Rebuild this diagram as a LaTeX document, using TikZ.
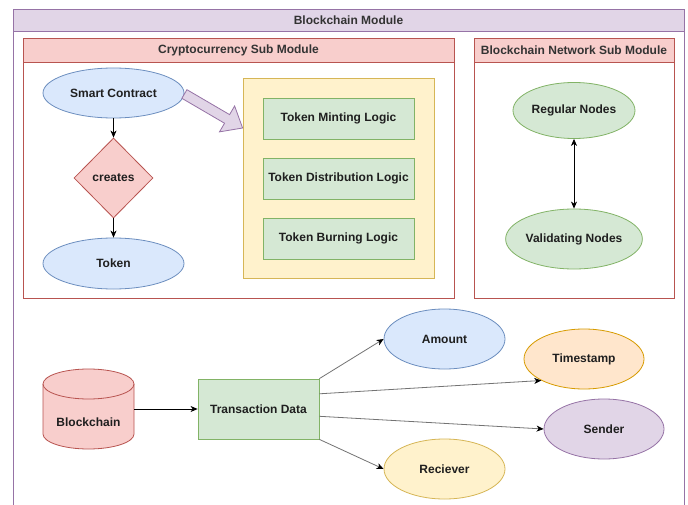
\documentclass[tikz,border=0pt]{standalone}
\usepackage{fontspec}
\setmainfont{Liberation Sans}
\usetikzlibrary{shapes.geometric,arrows.meta,calc}
\definecolor{purpF}{HTML}{E1D5E7}
\definecolor{purpS}{HTML}{9673A6}
\definecolor{redF}{HTML}{F8CECC}
\definecolor{redS}{HTML}{B85450}
\definecolor{blueF}{HTML}{DAE8FC}
\definecolor{blueS}{HTML}{6C8EBF}
\definecolor{yelF}{HTML}{FFF2CC}
\definecolor{yelS}{HTML}{D6B656}
\definecolor{greenF}{HTML}{D5E8D4}
\definecolor{greenS}{HTML}{82B366}
\definecolor{orF}{HTML}{FFE6CC}
\definecolor{orS}{HTML}{D79B00}
\tikzset{
  txt/.style={font=\fontsize{12}{14}\selectfont\bfseries, text=black!88},
  hdr/.style={font=\fontsize{12}{14}\selectfont\bfseries, text=black!80},
  ell/.style={ellipse, inner sep=0pt, line width=0.8pt, txt},
  box/.style={rectangle, inner sep=0pt, line width=0.8pt, txt},
  cont/.style={line width=0.8pt},
  tipA/.tip={Stealth[length=7pt,width=6pt,inset=2pt,black]},
  conn/.style={draw=black, line width=0.8pt, -tipA},
  conn2/.style={draw=black!55, line width=0.8pt, -tipA},
}
\begin{document}
\begin{tikzpicture}[x=1pt,y=1pt]
\useasboundingbox (0,0) rectangle (688,-505);
\clip (0,0) rectangle (688,-505);
% outer module
\draw[cont, draw=purpS, fill=white] (13,-9) rectangle (684,-530);
\draw[cont, draw=purpS, fill=purpF] (13,-9) rectangle (684,-31);
\node[hdr] (modl) at (348.5,-20) {Blockchain Module};
% crypto sub module
\draw[cont, draw=redS, fill=white] (23,-38) rectangle (454,-298);
\draw[cont, draw=redS, fill=redF] (23,-38) rectangle (454,-62);
\node[hdr] (cryl) at (238.5,-50) {Cryptocurrency Sub Module};
% network sub module
\draw[cont, draw=redS, fill=white] (474,-38) rectangle (674,-298);
\draw[cont, draw=redS, fill=redF] (474,-38) rectangle (674,-62);
\node[hdr] (netl) at (574,-50) {Blockchain Network Sub Module};

% crypto contents
\node[ell, draw=blueS, fill=blueF, minimum width=141pt, minimum height=50pt] (sc) at (113.5,-93) {Smart Contract};
\node[diamond, aspect=1, inner sep=0pt, line width=0.8pt, txt, draw=redS, fill=redF, minimum width=79pt, minimum height=80pt] (cr) at (113.5,-178) {creates};
\node[ell, draw=blueS, fill=blueF, minimum width=141pt, minimum height=51pt] (tk) at (113.5,-263.5) {Token};
\draw[conn] (sc.south) -- (cr.north);
\draw[conn] (cr.south) -- (tk.north);

\node[box, draw=yelS, fill=yelF, minimum width=191pt, minimum height=200pt] (yc) at (338.5,-178) {};
\node[box, draw=greenS, fill=greenF, minimum width=151pt, minimum height=41pt] (tm) at (338.5,-118.5) {Token Minting Logic};
\node[box, draw=greenS, fill=greenF, minimum width=151pt, minimum height=41pt] (td2) at (338.5,-178.5) {Token Distribution Logic};
\node[box, draw=greenS, fill=greenF, minimum width=151pt, minimum height=41pt] (tb) at (338.5,-238.5) {Token Burning Logic};

% fat arrow
\coordinate (fa1) at ($(sc.east)+(0,-1)$);
\coordinate (fa2) at ($(yc.west)+(0,50)$);
\coordinate (fb) at ($(fa2)!18pt!(fa1)$);
\draw[line width=0.8pt, draw=purpS, fill=purpF, line join=miter]
  ($(fa1)!5pt!90:(fa2)$) -- ($(fb)!5pt!90:(fa2)$) -- ($(fb)!15pt!90:(fa2)$) -- (fa2)
  -- ($(fb)!15pt!-90:(fa2)$) -- ($(fb)!5pt!-90:(fa2)$) -- ($(fa1)!5pt!-90:(fa2)$) -- cycle;

% network contents
\node[ell, draw=greenS, fill=greenF, minimum width=122pt, minimum height=56pt] (rn) at (574,-110.5) {Regular Nodes};
\node[ell, draw=greenS, fill=greenF, minimum width=122pt, minimum height=60pt] (vn) at (574,-239) {Validating Nodes};
\draw[conn, tipA-tipA] (rn.south) -- (vn.north);

% bottom part
\node[inner sep=0pt, minimum width=91pt, minimum height=80pt] (bc) at (88.5,-409) {};
\draw[line width=0.8pt, draw=redS, fill=redF]
  (43,-384) -- (43,-434) arc[start angle=180, end angle=360, x radius=45.5, y radius=15]
  -- (134,-384) arc[start angle=0, end angle=180, x radius=45.5, y radius=15] -- cycle;
\draw[line width=0.8pt, draw=redS] (43,-384) arc[start angle=180, end angle=360, x radius=45.5, y radius=15];
\node[txt] (bcl) at (88.5,-422) {Blockchain};

\node[box, draw=greenS, fill=greenF, minimum width=121pt, minimum height=60pt] (td) at (258.5,-409) {Transaction Data};
\node[ell, draw=blueS, fill=blueF, minimum width=121pt, minimum height=60pt] (am) at (444.5,-339) {Amount};
\node[ell, draw=orS, fill=orF, minimum width=120pt, minimum height=60pt] (ts) at (584,-359) {Timestamp};
\node[ell, draw=purpS, fill=purpF, minimum width=120pt, minimum height=60pt] (sd) at (604,-429) {Sender};
\node[ell, draw=yelS, fill=yelF, minimum width=121pt, minimum height=60pt] (rc) at (444.5,-469) {Reciever};

\draw[conn] (bc.east) -- (td.west);
\draw[conn2] (td.north east) -- (am.west);
\draw[conn2] ($(td.north east)!0.25!(td.south east)$) -- (ts.south west);
\draw[conn2] ($(td.north east)!0.62!(td.south east)$) -- (sd.west);
\draw[conn2] (td.south east) -- (rc.west);
\end{tikzpicture}
\end{document}
